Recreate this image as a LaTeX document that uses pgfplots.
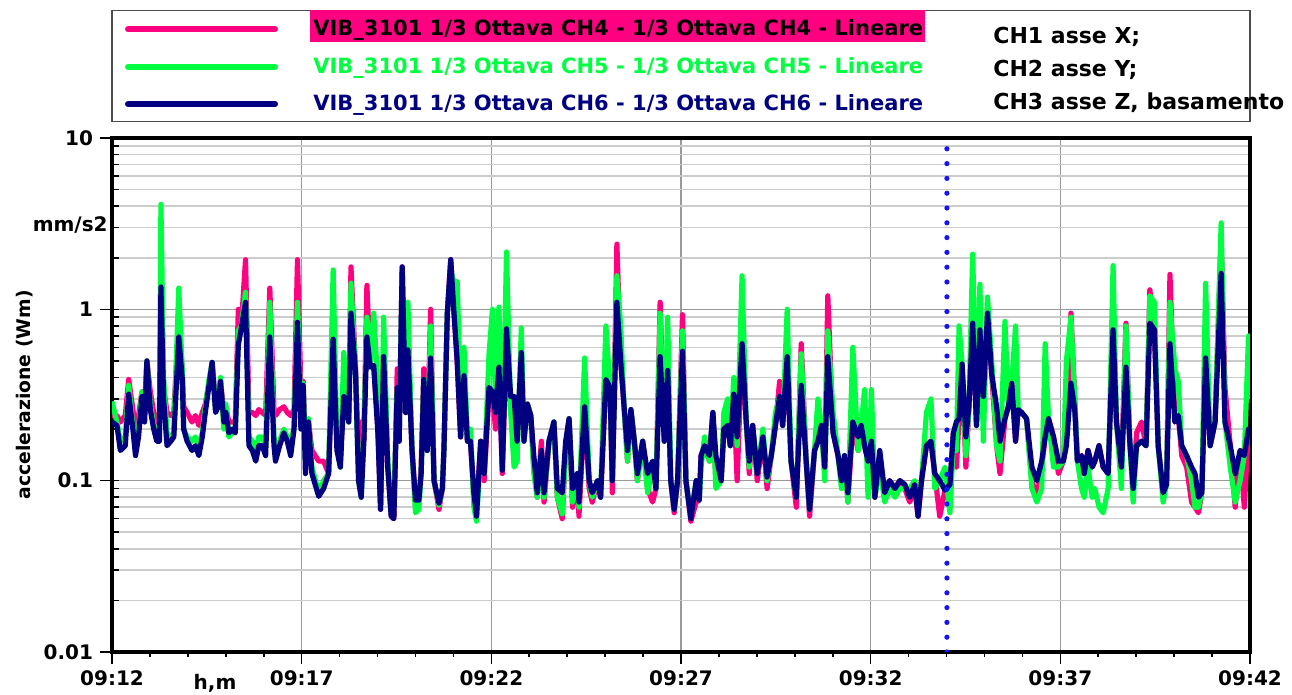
\documentclass[border=0pt]{standalone}
\usepackage{pgfplots}
\pgfplotsset{compat=1.18}
\usepackage{pgfplotstable}
\usepackage{fontspec}
\setmainfont{DejaVu Sans}
\definecolor{chfour}{RGB}{255,0,128}
\definecolor{chfive}{RGB}{0,255,64}
\definecolor{chsix}{RGB}{0,0,128}
\definecolor{markblue}{RGB}{20,20,250}

\pgfplotstableread{
x ch4 ch5 ch6
0.00 0.24 0.29 0.22
0.13 0.24 0.22 0.21
0.22 0.22 0.17 0.15
0.35 0.24 0.18 0.16
0.44 0.39 0.36 0.32
0.55 0.26 0.21 0.20
0.62 0.20 0.16 0.14
0.70 0.24 0.20 0.18
0.79 0.33 0.33 0.31
0.86 0.28 0.24 0.22
0.92 0.50 0.50 0.50
1.01 0.33 0.28 0.26
1.10 0.25 0.21 0.20
1.18 0.22 0.18 0.17
1.25 0.22 0.18 0.17
1.29 1.40 4.10 1.35
1.36 0.35 0.40 0.30
1.45 0.25 0.19 0.16
1.55 0.24 0.18 0.17
1.63 0.25 0.19 0.18
1.76 0.85 1.33 0.69
1.85 0.45 0.45 0.40
1.89 0.27 0.20 0.20
1.98 0.25 0.18 0.17
2.11 0.22 0.17 0.15
2.20 0.24 0.18 0.16
2.29 0.21 0.16 0.14
2.38 0.25 0.19 0.18
2.46 0.28 0.27 0.25
2.55 0.36 0.38 0.35
2.64 0.49 0.49 0.49
2.73 0.28 0.26 0.25
2.80 0.30 0.29 0.27
2.86 0.38 0.40 0.38
2.95 0.25 0.20 0.22
3.00 0.27 0.28 0.25
3.08 0.22 0.18 0.19
3.17 0.22 0.19 0.20
3.25 0.22 0.20 0.19
3.33 1.00 0.75 0.62
3.41 0.80 0.80 0.78
3.52 1.95 1.26 1.10
3.61 0.25 0.18 0.16
3.70 0.25 0.17 0.15
3.79 0.24 0.15 0.13
3.87 0.26 0.18 0.16
3.96 0.25 0.18 0.16
4.05 0.24 0.16 0.14
4.16 1.33 1.10 0.69
4.27 0.26 0.18 0.16
4.31 0.24 0.15 0.13
4.42 0.26 0.17 0.16
4.53 0.27 0.20 0.19
4.62 0.25 0.18 0.17
4.71 0.24 0.16 0.14
4.80 0.26 0.21 0.20
4.89 1.95 1.10 0.84
4.98 0.34 0.25 0.20
5.04 0.38 0.37 0.36
5.10 0.14 0.13 0.11
5.18 0.22 0.23 0.22
5.27 0.15 0.12 0.11
5.45 0.13 0.085 0.081
5.58 0.13 0.10 0.09
5.71 0.11 0.11 0.11
5.83 0.80 1.70 0.67
5.93 0.16 0.16 0.15
6.02 0.13 0.12 0.12
6.11 0.35 0.56 0.31
6.24 0.23 0.22 0.22
6.30 1.77 1.42 0.95
6.42 0.45 0.43 0.43
6.50 0.13 0.10 0.10
6.57 0.22 0.08 0.08
6.64 0.17 0.20 0.17
6.72 1.38 0.90 0.69
6.81 0.46 0.50 0.46
6.90 0.47 0.95 0.47
7.01 0.20 0.35 0.19
7.08 0.068 0.075 0.068
7.16 0.55 0.90 0.53
7.27 0.12 0.13 0.12
7.36 0.062 0.065 0.062
7.43 0.06 0.07 0.06
7.52 0.45 0.35 0.35
7.57 0.17 0.17 0.17
7.65 1.77 1.70 1.77
7.74 0.25 0.30 0.25
7.80 0.58 1.10 0.58
7.91 0.15 0.15 0.15
8.00 0.075 0.065 0.077
8.09 0.075 0.068 0.077
8.15 0.12 0.11 0.11
8.22 0.45 0.39 0.39
8.31 0.15 0.15 0.15
8.40 1.00 0.80 0.52
8.49 0.10 0.10 0.10
8.62 0.068 0.072 0.074
8.71 0.09 0.09 0.09
8.75 0.15 0.15 0.15
8.84 0.95 0.95 0.95
8.93 1.95 1.70 1.95
9.01 1.00 1.45 1.00
9.10 0.50 1.45 0.50
9.19 0.18 0.30 0.18
9.28 0.41 0.60 0.41
9.37 0.17 0.17 0.17
9.45 0.17 0.20 0.17
9.54 0.08 0.07 0.085
9.61 0.07 0.058 0.062
9.72 0.17 0.15 0.17
9.81 0.10 0.11 0.11
9.94 0.33 0.55 0.35
10.03 0.33 1.00 0.33
10.11 0.20 0.30 0.25
10.20 0.46 1.03 0.46
10.29 0.11 0.13 0.115
10.40 0.77 2.16 0.77
10.51 0.25 0.25 0.31
10.60 0.28 0.12 0.31
10.68 0.17 0.13 0.17
10.79 0.56 0.78 0.56
10.86 0.17 0.17 0.17
10.95 0.28 0.28 0.28
11.04 0.24 0.24 0.24
11.12 0.12 0.11 0.14
11.21 0.08 0.08 0.085
11.32 0.17 0.12 0.15
11.39 0.075 0.08 0.085
11.52 0.17 0.17 0.17
11.65 0.22 0.22 0.22
11.74 0.08 0.08 0.09
11.87 0.06 0.064 0.085
11.96 0.16 0.15 0.17
12.05 0.23 0.23 0.23
12.14 0.07 0.075 0.09
12.27 0.11 0.11 0.11
12.31 0.062 0.07 0.075
12.46 0.27 0.52 0.27
12.58 0.09 0.10 0.10
12.66 0.075 0.08 0.085
12.80 0.10 0.10 0.10
12.88 0.08 0.08 0.08
13.02 0.39 0.80 0.39
13.13 0.35 0.35 0.35
13.19 0.085 0.10 0.10
13.31 2.40 1.57 1.10
13.41 0.50 0.80 0.50
13.50 0.27 0.27 0.27
13.59 0.13 0.13 0.15
13.68 0.26 0.26 0.26
13.77 0.17 0.17 0.17
13.85 0.10 0.10 0.11
13.99 0.17 0.17 0.17
14.12 0.09 0.085 0.11
14.25 0.075 0.12 0.13
14.34 0.09 0.09 0.09
14.45 1.10 0.95 0.53
14.56 0.17 0.17 0.17
14.65 0.44 0.90 0.44
14.73 0.10 0.10 0.10
14.82 0.065 0.068 0.068
14.91 0.10 0.10 0.10
15.04 0.93 0.75 0.57
15.13 0.10 0.10 0.10
15.26 0.058 0.062 0.06
15.40 0.075 0.10 0.10
15.48 0.077 0.077 0.077
15.53 0.14 0.12 0.14
15.62 0.16 0.18 0.16
15.75 0.13 0.13 0.14
15.84 0.25 0.25 0.25
15.92 0.10 0.09 0.14
16.06 0.10 0.10 0.10
16.13 0.20 0.25 0.20
16.23 0.21 0.30 0.21
16.30 0.16 0.16 0.16
16.39 0.32 0.40 0.32
16.48 0.10 0.16 0.18
16.61 0.63 1.57 0.63
16.72 0.22 0.22 0.22
16.80 0.11 0.12 0.13
16.89 0.21 0.21 0.21
17.01 0.10 0.11 0.11
17.16 0.18 0.20 0.18
17.27 0.09 0.10 0.105
17.38 0.14 0.14 0.14
17.49 0.21 0.25 0.21
17.60 0.38 0.31 0.31
17.68 0.21 0.21 0.21
17.80 0.53 1.00 0.53
17.90 0.13 0.13 0.13
18.04 0.07 0.08 0.08
18.17 0.63 0.55 0.36
18.30 0.13 0.13 0.13
18.39 0.062 0.068 0.068
18.52 0.15 0.15 0.15
18.61 0.17 0.30 0.17
18.70 0.21 0.21 0.21
18.79 0.12 0.10 0.12
18.87 1.20 0.75 0.53
19.01 0.19 0.25 0.19
19.14 0.14 0.14 0.14
19.23 0.10 0.09 0.10
19.31 0.14 0.14 0.14
19.40 0.075 0.075 0.085
19.53 0.22 0.60 0.22
19.67 0.15 0.15 0.18
19.75 0.21 0.21 0.21
19.84 0.16 0.34 0.16
19.93 0.13 0.08 0.13
20.02 0.17 0.34 0.17
20.11 0.08 0.08 0.08
20.24 0.14 0.12 0.15
20.37 0.08 0.075 0.085
20.50 0.10 0.09 0.10
20.64 0.09 0.08 0.09
20.77 0.10 0.09 0.10
20.90 0.09 0.09 0.095
21.03 0.075 0.09 0.08
21.16 0.09 0.10 0.095
21.25 0.062 0.075 0.062
21.34 0.10 0.10 0.10
21.47 0.16 0.25 0.16
21.59 0.17 0.30 0.17
21.69 0.11 0.09 0.11
21.82 0.062 0.10 0.10
21.96 0.088 0.12 0.088
22.09 0.095 0.065 0.095
22.18 0.19 0.17 0.19
22.26 0.12 0.15 0.22
22.33 0.23 0.80 0.23
22.41 0.48 0.48 0.48
22.51 0.12 0.14 0.18
22.59 0.27 0.27 0.27
22.69 0.83 2.10 0.83
22.79 0.21 0.21 0.21
22.88 0.76 1.40 0.76
22.97 0.31 0.17 0.31
23.08 0.95 1.18 0.95
23.19 0.42 0.50 0.42
23.32 0.16 0.16 0.27
23.41 0.11 0.13 0.17
23.54 0.23 0.85 0.23
23.63 0.27 0.27 0.27
23.72 0.37 0.37 0.37
23.82 0.17 0.80 0.17
23.89 0.26 0.26 0.26
23.98 0.25 0.25 0.25
24.11 0.23 0.23 0.23
24.25 0.10 0.09 0.12
24.38 0.08 0.075 0.10
24.51 0.12 0.09 0.13
24.60 0.18 0.63 0.18
24.69 0.23 0.23 0.23
24.82 0.18 0.12 0.18
24.95 0.11 0.12 0.13
25.08 0.13 0.13 0.13
25.16 0.18 0.50 0.16
25.28 0.95 0.90 0.37
25.38 0.30 0.30 0.26
25.45 0.13 0.13 0.13
25.56 0.14 0.09 0.14
25.63 0.11 0.08 0.11
25.73 0.15 0.12 0.15
25.84 0.12 0.08 0.12
25.91 0.13 0.09 0.13
26.02 0.16 0.07 0.16
26.13 0.12 0.065 0.12
26.26 0.11 0.09 0.11
26.39 0.76 1.80 0.76
26.48 0.22 0.22 0.22
26.61 0.12 0.09 0.12
26.73 0.83 0.80 0.46
26.83 0.17 0.17 0.17
26.92 0.09 0.075 0.09
27.01 0.19 0.16 0.16
27.14 0.22 0.17 0.17
27.26 0.16 0.16 0.16
27.36 1.30 1.20 0.83
27.48 0.76 1.10 0.76
27.58 0.16 0.16 0.16
27.71 0.085 0.075 0.085
27.80 0.095 0.095 0.095
27.89 1.60 1.10 0.63
28.02 0.22 0.45 0.22
28.11 0.24 0.38 0.24
28.20 0.14 0.16 0.16
28.33 0.12 0.14 0.14
28.46 0.075 0.10 0.12
28.55 0.07 0.07 0.11
28.64 0.065 0.07 0.08
28.73 0.085 0.085 0.085
28.83 0.52 1.42 0.52
28.95 0.16 0.16 0.16
29.08 0.22 0.22 0.22
29.24 2.60 3.20 1.62
29.34 0.35 0.22 0.22
29.48 0.16 0.12 0.16
29.61 0.07 0.075 0.11
29.74 0.15 0.10 0.15
29.85 0.07 0.14 0.14
29.96 0.20 0.70 0.20
30.00 0.17 0.30 0.18
}\vibdata

\begin{document}
\begin{tikzpicture}
\path[use as bounding box] (-56pt,-21.5pt) rectangle (590pt,326pt);
\begin{axis}[
  at={(0pt,0pt)}, anchor=south west,
  width=569pt, height=257pt, scale only axis,
  xmin=0, xmax=30,
  ymode=log, ymin=0.01, ymax=10,
  xtick={0,5,10,15,20,25,30},
  xticklabels={09:12,09:17,09:22,09:27,09:32,09:37,09:42},
  minor x tick num=4,
  ytick={0.01,0.1,1,10},
  yticklabels={0.01,0.1,1,10},
  xmajorgrids, ymajorgrids, yminorgrids,
  major grid style={black!40, line width=0.6pt},
  minor grid style={black!20, line width=0.8pt},
  axis line style={line width=2.2pt, black},
  xtick align=outside, ytick align=outside,
  xtick pos=bottom, ytick pos=left,
  major tick length=6pt, minor tick length=2.5pt,
  tick style={black, line width=0.8pt},
  minor y tick style={xshift=3.6pt},
  ticklabel style={font=\bfseries\fontsize{10}{12}\selectfont},
  every axis y label/.style={at={(axis description cs:-0.0765,0.5)}, rotate=90, anchor=center, font=\bfseries\fontsize{9.4}{11}\selectfont},
  ylabel={accelerazione (Wm)},
  clip mode=individual,
  every axis plot/.append style={line width=2.6pt, line join=round},
]
\addplot[chfour] table[x=x, y=ch4] {\vibdata};
\addplot[chfive] table[x=x, y=ch5] {\vibdata};
\addplot[chsix] table[x=x, y=ch6] {\vibdata};
\addplot[markblue, line width=2.6pt, line cap=round, dash pattern=on 0pt off 7.4pt] coordinates {(22.01,0.01) (22.01,10)};
\end{axis}
% legend box
\draw[black!70, line width=0.7pt] (0pt,265.15pt) rectangle (569pt,320.65pt);
\draw[chfour, line width=3pt, line cap=round] (8pt,311.35pt) -- (81.5pt,311.35pt);
\draw[chfive, line width=3pt, line cap=round] (8pt,292.65pt) -- (81.5pt,292.65pt);
\draw[chsix, line width=3pt, line cap=round] (8pt,274pt) -- (81.5pt,274pt);
\node[anchor=base west, inner sep=0pt, font=\bfseries\fontsize{10.5}{12}\selectfont] at (99pt,308pt) {\setlength{\fboxsep}{0pt}\colorbox{chfour}{\rule[-2.85pt]{0pt}{15.85pt}\hspace{1.5pt}VIB\_3101 1/3 Ottava CH4 - 1/3 Ottava CH4 - Lineare\hspace{1pt}}};
\node[anchor=base west, inner sep=0pt, font=\bfseries\fontsize{10.5}{12}\selectfont, text=chfive] at (100.5pt,289.3pt) {VIB\_3101 1/3 Ottava CH5 - 1/3 Ottava CH5 - Lineare};
\node[anchor=base west, inner sep=0pt, font=\bfseries\fontsize{10.5}{12}\selectfont, text=chsix] at (100.5pt,270.6pt) {VIB\_3101 1/3 Ottava CH6 - 1/3 Ottava CH6 - Lineare};
\node[anchor=base west, inner sep=0pt, font=\bfseries\fontsize{11}{13}\selectfont] at (440.5pt,304.35pt) {CH1 asse X;};
\node[anchor=base west, inner sep=0pt, font=\bfseries\fontsize{11}{13}\selectfont] at (440.5pt,287.65pt) {CH2 asse Y;};
\node[anchor=base west, inner sep=0pt, font=\bfseries\fontsize{11}{13}\selectfont] at (440.5pt,271pt) {CH3 asse Z, basamento};
\node[anchor=east, inner sep=0pt, font=\bfseries\fontsize{10}{12}\selectfont] at (-2pt,213.5pt) {mm/s2};
\node[anchor=base, inner sep=0pt, font=\bfseries\fontsize{10}{12}\selectfont] at (51.5pt,-19pt) {h,m};
\end{tikzpicture}
\end{document}
